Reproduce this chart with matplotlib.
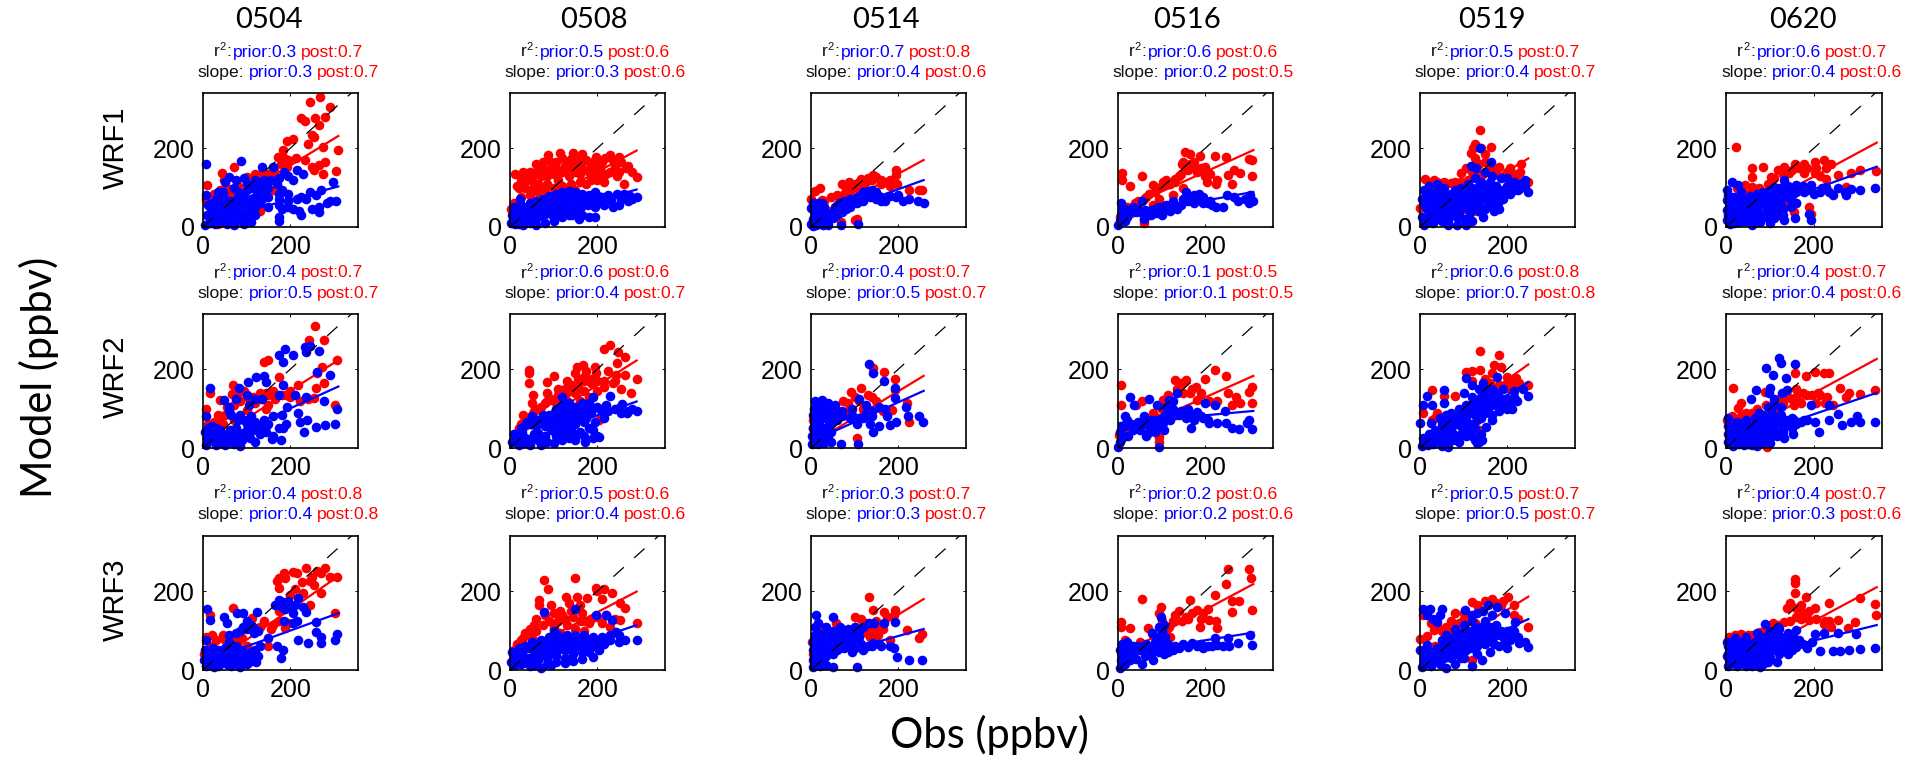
import matplotlib
matplotlib.use("Agg")
import matplotlib.pyplot as plt

W, H = 1909, 758

dates = ["0504", "0508", "0514", "0516", "0519", "0620"]
runs = ["WRF1", "WRF2", "WRF3"]

r2_prior = [["0.3", "0.5", "0.7", "0.6", "0.5", "0.6"],
            ["0.4", "0.6", "0.4", "0.1", "0.6", "0.4"],
            ["0.4", "0.5", "0.3", "0.2", "0.5", "0.4"]]
r2_post = [["0.7", "0.6", "0.8", "0.6", "0.7", "0.7"],
           ["0.7", "0.6", "0.7", "0.5", "0.8", "0.7"],
           ["0.8", "0.6", "0.7", "0.6", "0.7", "0.7"]]
slope_prior = [["0.3", "0.3", "0.4", "0.2", "0.4", "0.4"],
               ["0.5", "0.4", "0.5", "0.1", "0.7", "0.4"],
               ["0.4", "0.4", "0.3", "0.2", "0.5", "0.3"]]
slope_post = [["0.7", "0.6", "0.6", "0.5", "0.7", "0.6"],
              ["0.7", "0.7", "0.7", "0.5", "0.8", "0.6"],
              ["0.8", "0.6", "0.7", "0.6", "0.7", "0.6"]]

# regression lines: last obs value, model value at obs=0 and at the last obs
fit_x_end = [310, 290, 258, 310, 248, 343]
post_y0 = [[20, 20, 15, 40, 8, 8], [5, 20, 10, 30, 15, 18], [0, 30, 5, 35, 15, 5]]
post_y1 = [[231, 194, 170, 195, 174, 214], [223, 222, 183, 183, 212, 226], [238, 199, 180, 218, 186, 210]]
prior_y0 = [[10, 8, 16, 27, 24, 16], [0, 5, 16, 63, 0, 10], [20, 5, 25, 40, 5, 20]]
prior_y1 = [[103, 95, 119, 89, 123, 153], [156, 118, 145, 94, 167, 140], [144, 114, 104, 95, 129, 114]]

# scatter points, (obs, model)
post_wrf1_0504 = [(267,331),(244,317),(292,304),(224,276),(234,268),(257,276),(280,280),(265,259),(249,234),(254,228),(193,217),(205,223),(183,195),(240,210),(275,204),(309,195),(213,174),(234,170),(280,166),(265,157),(249,153),(254,144),(275,134),(304,143),(172,178),(178,161),(193,153),(162,144),(136,136),(70,153),(44,136),(10,106),(49,119),(100,128),(142,102),(162,93),(8,70),(25,85),(40,95),(60,80),(80,105),(95,90),(120,110),(115,60),(90,45),(70,35),(50,20),(30,50),(18,30),(45,55),(105,25),(130,40),(75,12),(35,8),(60,62),(55,100),(15,50),(135,120),(150,135),(165,125),(120,135),(195,170),(185,175)]
prior_wrf1_0504 = [(8,160),(88,167),(135,153),(160,152),(215,145),(185,140),(175,125),(230,135),(205,120),(195,130),(180,95),(140,120),(120,118),(95,125),(75,120),(60,128),(50,115),(45,90),(8,80),(30,70),(20,45),(10,30),(40,55),(60,50),(80,75),(100,95),(110,70),(90,60),(70,100),(125,85),(150,75),(175,70),(195,85),(225,75),(245,90),(270,95),(290,65),(305,65),(285,60),(265,50),(250,45),(265,38),(225,30),(180,45),(205,45),(175,25),(175,15),(150,50),(130,60),(100,40),(85,20),(65,15),(40,15),(15,10),(5,5),(110,12),(120,30),(298,115),(235,70),(55,30),(75,45),(30,25),(220,40),(258,80),(12,55),(25,35),(35,45),(48,40),(62,35),(75,30),(90,35),(105,55),(118,50),(125,65),(95,75),(80,90),(100,110),(115,100),(130,105),(65,65),(50,72),(35,88),(15,20),(28,8),(55,8),(72,5),(95,8),(108,25),(170,110),(175,85),(150,100),(195,65),(215,72),(175,55),(195,50),(120,75),(20,60),(45,25),(80,55),(100,25),(115,40),(135,70),(140,95),(155,120),(40,70),(25,50)]

post_wrf1_0508 = [(114,189),(87,183),(145,189),(165,185),(229,183),(198,178),(218,174),(250,178),(120,175),(140,172),(175,170),(95,165),(75,165),(60,160),(45,140),(30,140),(12,135),(25,120),(40,120),(15,105),(35,100),(55,110),(70,130),(90,145),(105,150),(125,155),(150,160),(185,155),(205,150),(240,155),(265,150),(280,140),(290,128),(270,155),(220,135),(245,130),(260,110),(200,120),(175,110),(160,135),(135,130),(110,120),(85,110),(65,90),(45,80),(25,75),(10,60),(3,45),(150,95),(125,90),(100,85),(190,140),(20,100),(30,120),(50,125),(60,140),(75,150),(85,130),(100,135),(120,140),(135,145),(150,140),(165,150),(180,140),(195,130),(210,135),(230,140),(250,140),(80,95),(100,100),(120,105),(140,110),(160,115),(185,120),(215,115),(50,95),(65,110),(105,165),(130,165),(160,172),(190,165),(210,165),(235,170),(255,165)]
prior_wrf1_0508 = [(24,72),(10,50),(5,30),(3,10),(15,20),(30,40),(45,60),(60,65),(75,70),(90,78),(105,85),(120,90),(135,92),(150,88),(165,85),(180,80),(195,88),(210,75),(225,80),(245,85),(262,85),(275,78),(290,76),(270,65),(250,55),(235,52),(215,55),(205,65),(190,60),(170,65),(155,60),(140,70),(125,70),(110,65),(95,55),(80,50),(65,45),(50,35),(35,22),(20,8),(45,10),(60,20),(75,28),(90,35),(105,40),(120,45),(135,48),(150,40),(165,30),(180,25),(195,25),(120,25),(100,15),(80,10),(60,5),(30,5),(135,30),(12,35),(25,55),(38,50),(52,50),(68,58),(82,62),(98,68),(112,78),(128,82),(142,82),(158,75),(172,75),(188,72),(202,78),(218,68),(232,68),(255,70),(280,72),(18,30),(42,32),(58,38),(72,42),(88,45),(102,52),(118,58),(132,60),(148,52),(162,50),(178,55),(195,52),(12,8),(28,18),(52,22),(68,35),(85,38),(98,28),(112,32),(128,38),(142,30),(158,20)]

post_wrf1_0514 = [(20,100),(9,92),(0,72),(70,110),(88,115),(100,108),(115,123),(130,125),(141,132),(150,128),(120,110),(105,100),(90,92),(75,85),(59,81),(45,75),(30,65),(26,68),(194,145),(194,132),(170,115),(198,110),(180,105),(160,110),(225,94),(255,95),(247,95),(101,17),(68,13),(106,21),(40,40),(20,30),(60,55),(10,45),(80,100),(95,100),(110,115),(125,115),(140,118),(160,120),(180,120)]
prior_wrf1_0514 = [(5,62),(15,62),(25,62),(0,48),(10,35),(5,20),(0,8),(5,3),(15,15),(25,25),(30,50),(22,10),(38,15),(40,4),(45,35),(55,50),(65,60),(75,65),(90,70),(105,75),(118,88),(130,92),(140,95),(150,88),(135,75),(120,65),(105,60),(90,50),(80,45),(70,38),(60,30),(50,22),(150,70),(165,72),(180,78),(195,75),(210,65),(225,70),(245,65),(258,60),(200,82),(68,5),(107,8),(160,65),(30,35),(10,50),(18,45),(35,22),(12,5),(28,5),(60,40),(72,52),(85,58),(100,65),(112,78),(125,80),(140,82),(155,78),(170,65)]

post_wrf1_0516 = [(9,138),(9,119),(55,129),(28,105),(81,106),(154,191),(165,185),(187,179),(222,180),(248,177),(301,172),(306,170),(306,129),(266,145),(279,138),(253,132),(262,110),(226,119),(204,115),(200,153),(182,140),(147,161),(165,161),(130,123),(103,115),(125,81),(59,10),(59,17),(60,70),(40,60),(20,50),(5,25),(30,35),(70,85),(90,100),(110,120),(120,110),(140,130),(155,150),(175,150),(80,55),(95,70),(200,130),(225,110),(150,100),(45,65),(65,75),(85,90),(100,105),(115,110),(130,115),(145,135),(150,165),(160,145),(175,165),(190,150),(210,135),(35,50),(15,40)]
prior_wrf1_0516 = [(0,5),(8,30),(8,60),(15,45),(25,35),(35,50),(55,65),(45,45),(55,35),(70,40),(85,45),(100,50),(110,55),(125,65),(120,40),(135,45),(100,30),(90,35),(75,30),(145,55),(155,90),(165,75),(175,80),(185,85),(195,75),(205,60),(215,55),(225,50),(240,50),(250,80),(265,75),(275,65),(290,70),(302,80),(310,65),(300,60),(160,65),(175,60),(190,65),(60,20),(8,15),(20,25),(10,45),(20,35),(30,42),(42,38),(62,42),(78,42),(92,50),(108,42),(122,52),(148,70),(158,75),(170,68),(182,72),(195,60),(210,65),(15,15),(5,15)]

post_wrf1_0519 = [(137,246),(163,204),(117,187),(122,200),(140,200),(127,174),(135,160),(150,165),(94,136),(106,149),(12,123),(33,119),(55,115),(70,112),(232,161),(206,149),(181,153),(219,128),(248,115),(227,102),(165,140),(190,130),(110,120),(85,100),(40,70),(20,60),(0,48),(60,50),(100,45),(130,40),(150,60),(170,85),(75,70),(25,95),(120,140),(130,130),(145,135),(160,150),(175,135),(95,115),(80,115),(40,115),(20,110),(200,140),(215,135),(230,140),(150,185),(125,210)]
prior_wrf1_0519 = [(137,200),(163,165),(117,155),(128,150),(150,140),(165,130),(185,125),(200,125),(215,115),(230,110),(248,90),(240,120),(225,95),(205,85),(190,95),(175,105),(160,115),(140,115),(125,125),(110,110),(95,100),(80,95),(70,85),(55,80),(40,75),(25,85),(10,95),(20,105),(40,110),(55,100),(5,70),(30,60),(15,45),(5,25),(20,20),(40,45),(60,60),(85,70),(110,85),(130,90),(150,90),(170,75),(190,70),(170,40),(180,45),(145,25),(160,60),(130,55),(100,50),(85,25),(75,50),(50,30),(30,10),(85,5),(120,15),(10,5),(65,15),(145,70),(12,75),(20,70),(32,90),(48,90),(62,72),(72,62),(90,85),(105,95),(120,100),(135,105),(150,105),(165,100),(180,90),(198,95),(212,100),(228,100),(240,105),(10,55),(22,38),(35,30),(48,50),(70,40),(90,35),(110,65),(125,70),(140,80),(155,70),(178,60),(165,55),(150,45),(135,40),(115,35),(100,20),(65,5),(50,15),(15,12),(30,45),(105,5),(30,80),(45,65),(60,45),(75,30),(90,60),(100,70),(120,50),(135,60),(150,75),(165,85),(180,75),(200,105),(215,95),(120,85),(95,50),(45,20),(25,30),(60,30),(85,45)]

post_wrf1_0620 = [(22,204),(60,149),(85,153),(60,128),(131,153),(156,161),(177,161),(202,166),(222,170),(239,161),(227,149),(256,132),(285,136),(306,145),(342,143),(272,102),(227,123),(202,136),(177,136),(143,136),(118,145),(102,128),(43,106),(25,100),(60,102),(85,85),(10,77),(160,60),(189,51),(193,34),(155,38),(110,34),(120,100),(90,60),(135,85),(75,100),(95,110),(110,125),(130,135),(150,145),(165,150),(185,150),(205,150),(215,130),(50,85),(30,75),(15,60),(115,60),(140,55)]
prior_wrf1_0620 = [(14,115),(27,106),(2,94),(2,68),(2,42),(2,18),(131,119),(110,102),(160,106),(193,106),(218,98),(243,81),(272,81),(285,96),(306,94),(339,100),(227,102),(177,89),(152,85),(147,51),(160,60),(189,34),(193,19),(158,24),(131,17),(120,95),(100,85),(85,80),(70,70),(55,60),(40,55),(25,60),(15,45),(30,35),(50,40),(70,45),(90,55),(110,60),(125,70),(140,90),(15,20),(30,12),(50,15),(70,20),(90,25),(110,35),(60,5),(35,25),(8,8),(100,10),(130,45),(120,30),(175,105),(5,80),(8,55),(18,75),(30,75),(42,68),(55,78),(70,85),(85,90),(100,95),(115,90),(128,85),(140,105),(155,95),(170,100),(185,95),(200,85),(215,90),(235,90),(255,100),(270,90),(12,32),(25,35),(40,42),(58,48),(75,55),(95,68),(110,75),(125,55),(5,30),(18,10),(40,15),(55,28),(78,12),(92,38),(110,22),(130,30),(145,70),(35,90),(50,60),(65,50),(85,65),(100,75),(115,70),(130,95),(150,100),(60,35),(75,35),(45,30),(30,50),(20,55),(100,45),(115,50),(125,100),(160,90)]

post_wrf2_0504 = [(256,310),(242,274),(278,274),(139,219),(148,223),(307,223),(262,191),(273,206),(69,160),(16,139),(7,98),(38,122),(67,137),(278,166),(258,151),(218,160),(254,126),(302,109),(222,120),(144,139),(126,126),(144,100),(100,96),(20,50),(8,40),(30,55),(40,70),(50,85),(60,95),(70,110),(85,120),(100,130),(120,115),(135,125),(150,110),(160,145),(175,180),(190,135),(200,130),(240,125),(12,60),(25,65),(35,85),(55,105),(80,140),(95,145),(115,130),(150,135),(165,125),(180,135),(200,145),(130,140),(45,60),(70,70)]
prior_wrf2_0504 = [(188,250),(174,236),(183,219),(205,236),(234,257),(245,259),(236,244),(265,246),(261,194),(291,184),(16,151),(7,81),(122,181),(139,183),(144,168),(104,168),(82,151),(100,135),(47,122),(60,105),(183,160),(174,135),(193,105),(210,135),(236,130),(276,118),(218,90),(308,99),(238,71),(223,67),(302,61),(280,58),(258,54),(232,41),(183,50),(178,20),(157,24),(130,54),(161,80),(5,40),(15,20),(30,35),(45,15),(60,30),(75,50),(90,20),(105,35),(120,15),(20,55),(40,45),(70,10),(100,60),(85,85),(110,80),(140,70),(8,8),(12,50),(22,40),(35,20),(48,30),(62,45),(78,35),(92,35),(108,25),(122,45),(135,55),(145,40),(160,30),(50,8),(85,5),(30,8),(65,85),(80,70),(95,70),(120,65),(105,110),(120,125),(135,125),(75,125),(60,95),(150,60),(190,60),(180,85),(175,50),(15,35),(30,50),(55,20),(70,25),(85,25),(100,45),(115,55),(130,35),(145,55),(45,35),(10,25),(25,20)]

post_wrf2_0508 = [(229,261),(216,250),(247,244),(264,232),(44,198),(44,190),(44,164),(101,183),(84,168),(53,134),(291,174),(278,140),(154,206),(167,211),(198,190),(242,185),(264,185),(203,71),(20,50),(35,70),(50,85),(65,100),(80,115),(95,125),(110,135),(125,150),(140,160),(155,175),(170,180),(185,165),(215,170),(235,165),(10,35),(130,120),(150,140),(170,145),(200,145),(145,90),(165,80),(25,60),(40,75),(55,95),(70,105),(85,120),(100,120),(115,125),(125,135),(140,145),(155,155),(170,170),(185,175),(200,170),(215,155),(30,85),(50,115),(85,140),(110,150),(130,170),(150,190),(175,195),(195,205),(225,195),(240,170),(255,150),(245,215),(160,120),(180,130)]
prior_wrf2_0508 = [(119,130),(189,130),(229,132),(256,112),(291,95),(269,88),(203,29),(172,16),(50,80),(40,65),(25,50),(10,35),(5,15),(20,15),(60,55),(75,70),(90,85),(105,100),(120,110),(135,115),(150,105),(165,115),(180,115),(200,105),(220,110),(240,100),(255,90),(210,95),(185,90),(160,85),(140,80),(125,70),(110,60),(95,45),(80,30),(65,20),(45,8),(130,45),(150,60),(170,65),(190,45),(150,30),(120,20),(100,12),(170,30),(35,25),(55,35),(15,30),(28,40),(35,58),(48,60),(62,70),(75,85),(88,70),(100,85),(112,95),(125,98),(140,98),(155,95),(172,100),(188,102),(205,100),(225,95),(250,102),(270,95),(280,100),(30,12),(50,25),(65,38),(80,55),(95,65),(110,78),(125,85),(140,65),(155,70),(175,75),(195,65),(215,75),(105,30),(120,35),(135,25),(150,20),(85,15),(70,8),(160,40),(180,50),(200,30),(20,8),(125,55),(140,45),(110,45),(190,25)]

post_wrf2_0514 = [(141,202),(167,194),(192,174),(192,148),(92,143),(115,151),(130,135),(73,118),(106,25),(220,113),(225,67),(185,96),(5,50),(5,70),(20,90),(110,120),(120,100),(150,120),(165,95),(90,100),(75,85),(100,130),(140,130),(85,115)]
prior_wrf2_0514 = [(132,212),(141,190),(167,170),(192,151),(192,126),(218,105),(223,82),(247,81),(256,66),(194,67),(181,58),(141,41),(68,10),(107,10),(10,120),(25,122),(40,115),(55,110),(70,95),(8,100),(22,100),(38,90),(55,85),(10,80),(25,75),(40,70),(60,70),(5,50),(20,55),(3,30),(15,30),(30,35),(45,40),(3,10),(15,10),(30,12),(45,15),(95,100),(110,125),(125,110),(140,95),(155,105),(170,100),(120,75),(135,60),(155,55),(90,75),(105,60),(130,85),(175,80),(15,110),(30,105),(45,100),(60,95),(5,85),(15,90),(30,85),(45,60),(35,50),(10,65),(20,40),(40,25),(25,18),(8,20),(70,80),(95,85),(110,75),(125,90),(140,80)]

post_wrf2_0516 = [(8,160),(8,109),(222,198),(200,174),(248,183),(306,156),(301,143),(253,139),(270,130),(279,113),(307,113),(262,109),(130,173),(156,173),(147,165),(178,156),(165,139),(182,122),(209,118),(226,118),(55,118),(94,16),(94,28),(41,109),(2,33),(81,88),(103,122),(115,135),(135,150),(150,140),(90,75),(75,60),(20,50),(140,165),(170,150),(190,140),(100,100)]
prior_wrf2_0516 = [(28,130),(37,109),(72,124),(90,109),(134,139),(116,122),(200,113),(222,109),(246,95),(301,71),(296,63),(307,47),(277,47),(262,50),(248,63),(226,63),(209,63),(167,52),(94,3),(182,92),(160,100),(15,80),(10,55),(0,3),(23,30),(59,80),(68,37),(103,63),(5,15),(10,30),(30,60),(45,65),(75,70),(90,55),(110,90),(125,100),(140,85),(155,75),(175,70),(195,75),(85,40),(50,45),(120,70),(5,40),(15,55),(20,70),(35,45),(40,55),(60,60),(72,55),(85,70),(100,75),(115,75),(130,85),(145,95),(125,120),(110,105),(150,90),(170,85),(190,80),(205,70),(65,30),(105,45)]

post_wrf2_0519 = [(137,245),(180,235),(106,194),(137,198),(169,211),(185,206),(27,147),(56,132),(81,133),(248,160),(219,177),(227,165),(8,90),(135,46),(27,71),(120,170),(150,175),(200,180),(205,150),(50,50),(70,45),(100,50),(115,35),(40,90),(35,75),(120,195),(165,190),(200,165),(180,160),(160,165),(215,165)]
prior_wrf2_0519 = [(106,177),(56,147),(17,133),(6,109),(27,109),(56,113),(0,63),(25,63),(130,12),(142,20),(64,3),(248,132),(223,118),(200,98),(152,54),(177,181),(120,160),(145,165),(165,150),(190,150),(215,145),(235,150),(200,125),(180,130),(160,120),(140,130),(120,130),(105,110),(90,100),(80,80),(65,75),(50,60),(40,40),(25,25),(10,15),(5,5),(30,10),(70,45),(85,60),(105,70),(125,85),(145,100),(165,85),(180,95),(125,50),(140,35),(75,20),(60,25),(95,35),(110,100),(100,140),(8,25),(18,8),(20,35),(35,25),(45,20),(55,40),(65,55),(78,65),(92,70),(105,85),(118,95),(132,105),(148,115),(160,110),(172,110),(188,115),(205,115),(215,130),(155,135),(130,115),(115,110),(100,95),(88,85),(72,90),(60,85),(45,75),(130,70),(140,75),(150,90),(165,70),(120,30),(135,15),(125,20),(85,30),(50,5),(35,45),(135,150),(150,145),(175,140),(15,20),(30,20),(60,15),(90,15),(105,30),(110,50),(95,55),(75,35),(120,60),(135,90),(155,100),(175,125),(195,125),(210,100)]

post_wrf2_0620 = [(17,151),(35,113),(156,190),(181,183),(202,194),(222,190),(235,190),(260,151),(281,140),(306,137),(339,147),(272,130),(243,109),(210,139),(185,135),(150,125),(118,105),(89,143),(27,101),(2,71),(14,80),(35,80),(60,88),(89,80),(93,3),(130,140),(160,150),(230,130),(125,65),(100,50),(45,90),(70,100),(90,110),(110,120),(125,130),(140,130),(160,130),(175,140),(195,135),(215,135),(170,115),(205,115),(225,115),(15,70),(60,70),(130,115),(155,110),(50,75),(75,90)]
prior_wrf2_0620 = [(121,228),(125,215),(158,212),(91,204),(107,185),(137,177),(100,151),(97,140),(68,147),(56,124),(139,147),(127,139),(110,125),(193,109),(235,109),(256,86),(212,41),(152,36),(131,25),(235,71),(264,58),(285,67),(298,80),(306,66),(339,67),(202,67),(177,71),(150,75),(125,85),(105,90),(85,85),(65,75),(45,70),(25,65),(5,55),(10,35),(30,45),(50,50),(70,50),(90,55),(110,60),(130,60),(5,15),(20,20),(40,25),(60,20),(80,30),(100,35),(70,5),(40,8),(100,12),(15,5),(120,40),(5,75),(5,35),(15,45),(25,45),(40,50),(55,55),(65,60),(80,65),(95,70),(110,75),(125,75),(140,70),(155,70),(170,65),(185,70),(10,20),(30,10),(50,10),(65,35),(85,15),(90,40),(110,45),(130,40),(75,90),(95,105),(110,110),(125,105),(30,30),(50,35),(150,50),(100,25),(85,45),(20,35),(35,35),(60,45),(75,45),(90,30),(115,30),(130,50),(145,65),(160,60),(45,40),(75,20),(60,8),(20,55),(35,60)]

post_wrf3_0504 = [(236,260),(205,248),(188,233),(174,233),(174,207),(280,258),(262,250),(308,237),(227,224),(271,195),(245,165),(69,158),(16,140),(7,85),(20,89),(302,144),(188,106),(161,114),(113,131),(140,125),(200,190),(230,195),(255,215),(175,150),(30,75),(45,90),(60,85),(80,70),(100,60),(150,60),(3,40),(15,60),(130,110),(50,75),(70,70),(90,80),(120,100),(155,105),(175,125),(195,120),(170,225),(185,245),(250,235),(270,245),(290,235),(245,225),(215,245),(210,205)]
prior_wrf3_0504 = [(9,154),(16,127),(47,135),(55,118),(78,144),(91,144),(124,148),(183,173),(218,182),(174,178),(188,156),(236,148),(205,144),(205,118),(258,122),(258,97),(271,85),(308,91),(302,76),(271,68),(241,68),(218,76),(183,51),(178,30),(122,21),(7,76),(91,110),(117,93),(100,125),(5,50),(3,25),(15,15),(30,30),(45,45),(60,55),(75,60),(90,50),(110,45),(125,35),(75,20),(55,15),(35,10),(100,15),(170,60),(150,80),(60,90),(75,95),(110,115),(200,165),(230,160),(8,10),(10,40),(20,30),(22,55),(35,50),(50,30),(65,40),(80,40),(95,30),(105,20),(115,25),(65,10),(85,8),(25,8),(50,55),(60,70),(85,100),(100,105),(115,110),(125,100),(180,160),(195,175),(210,165),(165,165),(185,125),(215,125),(40,15),(60,20),(85,25),(100,35),(70,50),(45,35),(15,45),(30,15),(70,25),(120,50),(130,60)]

post_wrf3_0508 = [(79,228),(150,233),(88,205),(198,207),(215,205),(234,195),(66,178),(66,165),(128,186),(154,186),(176,182),(264,157),(251,169),(251,127),(291,118),(45,105),(25,75),(10,50),(60,130),(80,140),(100,145),(120,140),(140,150),(160,125),(185,130),(210,120),(35,95),(55,115),(100,110),(130,115),(170,100),(230,110),(15,65),(30,80),(45,95),(60,100),(75,115),(90,125),(110,125),(125,130),(145,135),(165,145),(180,120),(200,135),(220,140),(240,130),(115,150),(135,170),(160,165),(95,165),(100,105),(115,95),(200,200),(210,180),(170,125),(50,80),(150,105),(25,60)]
prior_wrf3_0508 = [(79,147),(150,154),(198,140),(220,140),(234,127),(242,97),(291,76),(264,76),(203,51),(189,34),(5,45),(3,20),(20,55),(15,30),(35,60),(50,70),(70,75),(90,85),(110,90),(130,88),(150,90),(170,88),(190,85),(210,85),(230,90),(250,72),(175,65),(155,60),(135,65),(115,60),(95,60),(75,50),(55,45),(40,30),(25,15),(45,10),(65,25),(85,30),(105,35),(125,30),(145,40),(165,45),(70,5),(95,12),(190,60),(215,65),(12,35),(28,45),(42,55),(58,60),(72,65),(85,72),(100,78),(118,78),(135,78),(155,78),(175,75),(195,75),(12,12),(30,25),(48,30),(62,35),(78,38),(92,42),(108,48),(125,50),(142,52),(160,55),(85,15),(105,20),(125,18),(145,22),(165,28),(60,12),(40,18),(250,90),(230,75),(120,65),(100,100),(110,65),(145,70),(170,60),(200,70),(225,75),(180,45)]

post_wrf3_0514 = [(132,186),(141,152),(167,148),(192,152),(101,135),(57,118),(22,110),(128,93),(154,89),(220,101),(255,91),(247,80),(181,76),(150,125),(125,120),(110,105),(85,90),(70,75),(2,70),(5,40),(30,85),(50,60),(190,140),(135,105),(100,110),(115,130),(150,100),(135,85),(165,105),(175,135)]
prior_wrf3_0514 = [(11,139),(50,134),(9,110),(132,118),(145,118),(167,118),(192,123),(101,110),(66,110),(110,85),(141,68),(190,55),(198,34),(225,25),(255,25),(106,7),(181,60),(85,105),(70,95),(50,100),(30,90),(10,90),(5,70),(25,70),(45,80),(5,50),(20,50),(40,60),(60,65),(80,60),(95,75),(5,25),(15,30),(35,35),(50,40),(5,8),(20,10),(35,12),(50,8),(115,65),(130,60),(160,60),(95,45),(120,50),(15,120),(35,110),(15,95),(35,75),(25,60),(45,50),(12,40),(28,22),(62,80),(80,85),(95,95),(110,100),(120,110),(75,55),(90,60),(140,60),(155,65),(105,75),(10,60),(30,45),(60,50),(70,65),(85,75),(15,75),(35,90),(55,80),(100,55),(110,60)]

post_wrf3_0516 = [(251,256),(299,256),(304,233),(248,218),(222,190),(262,176),(277,176),(55,180),(8,123),(8,110),(28,106),(68,106),(99,161),(94,144),(130,140),(165,178),(182,152),(209,127),(226,106),(262,148),(306,152),(147,125),(187,110),(15,76),(116,110),(160,130),(195,145),(120,85),(80,90),(125,125),(140,150),(155,135),(170,145),(190,130),(205,155),(100,125),(225,125),(110,100),(50,70)]
prior_wrf3_0516 = [(99,135),(94,110),(77,93),(108,85),(105,115),(252,80),(302,89),(307,63),(274,68),(255,62),(222,80),(226,63),(5,5),(8,25),(10,65),(20,70),(35,60),(50,50),(65,65),(85,60),(95,45),(110,55),(130,60),(150,65),(170,68),(190,65),(205,60),(20,35),(35,40),(55,15),(75,40),(115,45),(15,15),(5,50),(15,55),(25,55),(45,60),(60,55),(72,52),(85,70),(90,85),(100,100),(100,70),(115,65),(125,50),(140,55),(160,58),(180,62),(195,55),(215,62),(240,62),(10,40),(28,25),(42,28),(62,35),(80,25),(105,40)]

post_wrf3_0519 = [(0,78),(17,87),(120,173),(131,165),(202,186),(173,169),(248,110),(118,25),(27,40),(31,102),(60,110),(6,140),(81,144),(150,175),(190,175),(100,130),(50,100),(75,90),(125,120),(215,140),(25,120),(40,115),(70,125),(100,145),(165,180),(185,165),(215,165),(225,130),(65,95),(35,60),(15,30),(90,120),(110,135),(135,155)]
prior_wrf3_0519 = [(6,154),(23,154),(50,156),(17,140),(39,123),(102,152),(131,144),(156,165),(177,161),(194,144),(217,123),(248,59),(227,68),(200,55),(142,25),(120,11),(17,63),(0,51),(60,90),(80,105),(100,115),(120,125),(150,125),(175,115),(200,100),(215,85),(185,90),(160,95),(135,100),(115,90),(95,80),(75,70),(55,65),(35,40),(15,20),(5,8),(25,10),(45,15),(70,30),(90,45),(110,55),(130,60),(150,65),(170,65),(195,70),(60,5),(40,30),(10,25),(22,45),(30,25),(50,45),(65,60),(75,55),(85,85),(95,95),(110,100),(125,110),(140,110),(160,110),(175,90),(190,85),(205,75),(225,85),(240,70),(150,95),(120,75),(105,70),(140,80),(165,75),(180,60),(160,45),(130,40),(100,30),(80,15),(30,130),(45,140),(145,150),(165,140),(120,140),(10,40),(25,35),(40,55),(55,30),(70,45),(80,40),(90,65),(95,30),(105,50),(120,55),(130,85),(145,95),(155,80),(170,95),(185,100),(200,85),(215,100),(125,95),(150,110),(110,80),(70,80),(50,75),(60,75)]

post_wrf3_0620 = [(158,231),(156,220),(156,195),(181,186),(139,157),(160,157),(202,157),(235,171),(306,182),(339,167),(342,140),(293,123),(277,106),(256,127),(235,125),(222,117),(189,127),(131,123),(106,118),(77,97),(35,91),(6,85),(20,88),(50,90),(160,135),(175,145),(110,100),(60,90),(90,100),(120,115),(145,125),(170,130),(190,150),(205,130),(225,125),(240,110),(170,165),(145,170)]
prior_wrf3_0620 = [(89,117),(118,110),(160,101),(202,91),(222,95),(256,93),(295,91),(339,55),(306,53),(281,52),(260,47),(243,47),(214,48),(185,55),(160,59),(2,72),(77,8),(140,95),(100,100),(70,95),(45,85),(20,80),(5,60),(15,50),(35,60),(60,65),(80,70),(105,80),(125,70),(145,65),(3,35),(20,30),(40,35),(60,40),(80,35),(100,45),(120,40),(140,40),(5,10),(25,10),(45,10),(65,20),(95,20),(115,20),(165,75),(10,55),(8,30),(25,60),(30,45),(50,55),(65,70),(80,85),(95,90),(110,90),(125,85),(140,75),(155,80),(175,65),(195,70),(120,105),(5,40),(15,20),(35,20),(55,25),(75,50),(90,60),(110,60),(130,50),(150,50),(85,15),(100,30),(60,10),(15,70),(30,70),(45,70),(55,45),(70,45),(85,50),(40,50),(25,35),(10,20),(45,25),(70,30),(90,40),(115,50),(135,60),(155,65),(105,70),(85,75)]

post_points = [[post_wrf1_0504, post_wrf1_0508, post_wrf1_0514, post_wrf1_0516, post_wrf1_0519, post_wrf1_0620],
               [post_wrf2_0504, post_wrf2_0508, post_wrf2_0514, post_wrf2_0516, post_wrf2_0519, post_wrf2_0620],
               [post_wrf3_0504, post_wrf3_0508, post_wrf3_0514, post_wrf3_0516, post_wrf3_0519, post_wrf3_0620]]
prior_points = [[prior_wrf1_0504, prior_wrf1_0508, prior_wrf1_0514, prior_wrf1_0516, prior_wrf1_0519, prior_wrf1_0620],
                [prior_wrf2_0504, prior_wrf2_0508, prior_wrf2_0514, prior_wrf2_0516, prior_wrf2_0519, prior_wrf2_0620],
                [prior_wrf3_0504, prior_wrf3_0508, prior_wrf3_0514, prior_wrf3_0516, prior_wrf3_0519, prior_wrf3_0620]]

# layout in pixels of the full picture
col_left = [203, 510, 811, 1118, 1420, 1726]
col_right = [358, 665, 966, 1273, 1575, 1882]
row_top = [93, 314, 536]
row_bottom = [227, 448, 670]
title_x = [269, 594, 886, 1187, 1492, 1803]
run_label_y = [148, 377, 600]
line1_y = [52, 273, 494]
line2_y = [72, 293, 515]

BLUE = "#0000ff"
RED = "#ff0000"
SANS = "Liberation Sans"
HEAD = "Lato"
STAT_SIZE = 12.6


def fx(px):
    return px / W


def fy(py):
    return 1 - py / H


def draw_runs(fig, renderer, center, y, pieces):
    """Lay coloured text pieces side by side, centred on pixel x."""
    texts = []
    total = 0
    for text, color, size, dy, gap in pieces:
        t = fig.text(0, fy(y + dy), text, color=color, fontsize=size, family=SANS, va="center", ha="left")
        w = t.get_window_extent(renderer).width
        texts.append((t, w, gap))
        total += w + gap
    x = center - total / 2
    for t, w, gap in texts:
        t.set_x(fx(x))
        x += w + gap


fig = plt.figure(figsize=(W / 100, H / 100), dpi=100)
renderer = fig.canvas.get_renderer()

for r in range(3):
    for c in range(6):
        ax = fig.add_axes([fx(col_left[c]), fy(row_bottom[r]),
                           (col_right[c] - col_left[c]) / W, (row_bottom[r] - row_top[r]) / H])
        post_x, post_y = zip(*post_points[r][c])
        prior_x, prior_y = zip(*prior_points[r][c])
        ax.scatter(post_x, post_y, s=48, c=RED, linewidths=0, clip_on=False, zorder=2)
        ax.plot([0, fit_x_end[c]], [post_y0[r][c], post_y1[r][c]], color=RED, lw=1.6, zorder=2.1)
        ax.scatter(prior_x, prior_y, s=48, c=BLUE, linewidths=0, clip_on=False, zorder=3)
        ax.plot([0, fit_x_end[c]], [prior_y0[r][c], prior_y1[r][c]], color=BLUE, lw=1.6, zorder=3.1)
        ax.plot([0, 352], [0, 352], color="black", lw=0.9, linestyle=(0, (11.2, 11.1)), zorder=4)

        ax.set_xlim(0, 355)
        ax.set_ylim(0, 340)
        ax.set_xticks([0, 200])
        ax.set_yticks([0, 200])
        ax.tick_params(direction="in", length=2, width=0.7, top=True, right=True,
                       labelsize=18, pad=6)
        for lab in ax.get_xticklabels() + ax.get_yticklabels():
            lab.set_family(SANS)
        for spine in ax.spines.values():
            spine.set_linewidth(1.2)
            spine.set_zorder(5)

        center = (col_left[c] + col_right[c]) / 2 + 8
        draw_runs(fig, renderer, center, line1_y[r], [
            ("r", "#111111", STAT_SIZE, 0, 0.5),
            ("2", "#111111", 8, -5, 0.5),
            (":", "#111111", STAT_SIZE, 0, 1.5),
            ("prior:" + r2_prior[r][c], BLUE, STAT_SIZE, 0, 4),
            ("post:" + r2_post[r][c], RED, STAT_SIZE, 0, 0),
        ])
        draw_runs(fig, renderer, center, line2_y[r], [
            ("slope:", "#111111", STAT_SIZE, 0, 4),
            ("prior:" + slope_prior[r][c], BLUE, STAT_SIZE, 0, 4),
            ("post:" + slope_post[r][c], RED, STAT_SIZE, 0, 0),
        ])

for x, date in zip(title_x, dates):
    fig.text(fx(x), fy(20), date, fontsize=21, family=HEAD, ha="center", va="center")

for y, run in zip(run_label_y, runs):
    fig.text(fx(116), fy(y), run, fontsize=21, family=SANS, rotation=90, ha="center", va="center")

fig.text(fx(39), fy(377), "Model (ppbv)", fontsize=30, family=HEAD, rotation=90, ha="center", va="center")
fig.text(fx(989), fy(735), "Obs (ppbv)", fontsize=30, family=HEAD, ha="center", va="center")

fig.savefig("out.png", dpi=100)
